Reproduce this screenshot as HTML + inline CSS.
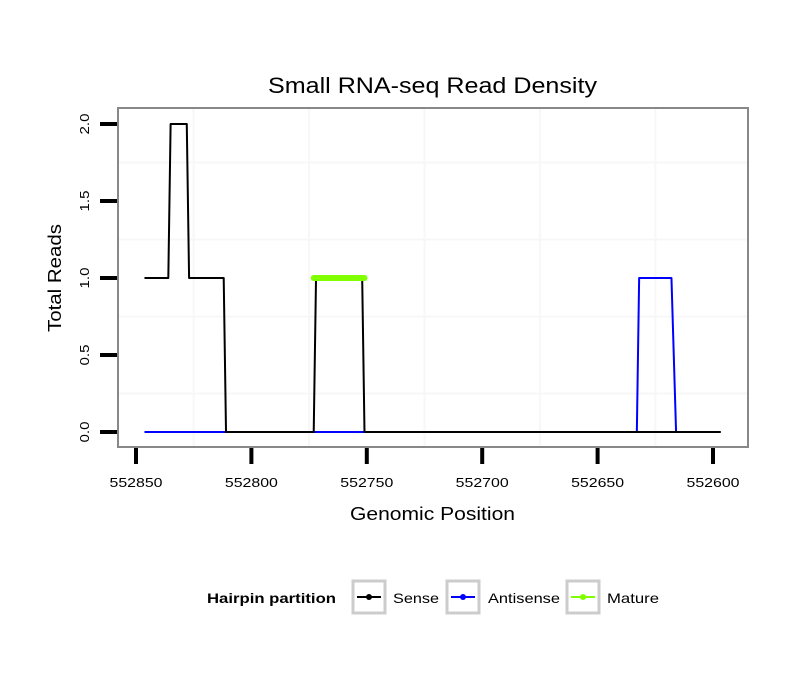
<!DOCTYPE html>
<html><head><meta charset="utf-8"><style>
body{margin:0;background:#fff;font-family:"Liberation Sans",sans-serif}
</style></head><body>
<svg id="chart" width="810" height="690" xmlns="http://www.w3.org/2000/svg" font-family="Liberation Sans, sans-serif">
<rect width="810" height="690" fill="#fff"/>
<text x="268" y="93" font-size="22" textLength="329" lengthAdjust="spacingAndGlyphs">Small RNA-seq Read Density</text>
<g id="grid"></g>
<g id="series"></g>
<rect x="118" y="108" width="630" height="339" fill="none" stroke="#888" stroke-width="2"/>
<g id="axes"></g>
<text x="350" y="520" font-size="18" textLength="165" lengthAdjust="spacingAndGlyphs">Genomic Position</text>
<text transform="translate(61,278) rotate(-90)" font-size="18" text-anchor="middle" textLength="108" lengthAdjust="spacingAndGlyphs">Total Reads</text>
<g>
<text x="207" y="603" font-size="14" font-weight="bold" textLength="129" lengthAdjust="spacingAndGlyphs">Hairpin partition</text>
<g><rect x="353" y="581" width="32" height="32" fill="#fff" stroke="#ccc" stroke-width="3"/><line x1="357" y1="597" x2="381" y2="597" stroke="#000" stroke-width="2"/><circle cx="369" cy="597" r="3" fill="#000"/><text x="393" y="603" font-size="14" textLength="46" lengthAdjust="spacingAndGlyphs">Sense</text></g>
<g><rect x="447" y="581" width="32" height="32" fill="#fff" stroke="#ccc" stroke-width="3"/><line x1="451" y1="597" x2="475" y2="597" stroke="#00f" stroke-width="2"/><circle cx="463" cy="597" r="3" fill="#00f"/><text x="488" y="603" font-size="14" textLength="72" lengthAdjust="spacingAndGlyphs">Antisense</text></g>
<g><rect x="567" y="581" width="32" height="32" fill="#fff" stroke="#ccc" stroke-width="3"/><line x1="571" y1="597" x2="595" y2="597" stroke="#7fff00" stroke-width="2"/><circle cx="583" cy="597" r="3" fill="#7fff00"/><text x="607" y="603" font-size="14" textLength="52" lengthAdjust="spacingAndGlyphs">Mature</text></g>
</g>
</svg>
<script>
const xTicks=[552850,552800,552750,552700,552650,552600];
const yTicks=[0,0.5,1,1.5,2];
const yTickLabels=["0.0","0.5","1.0","1.5","2.0"];
const senseX=[552846,552836,552835,552828,552827,552812,552811,552773,552772,552752,552751,552597];
const senseY=[1,1,2,2,1,1,0,0,1,1,0,0];
const antiX=[552846,552633,552632,552618,552616,552597];
const antiY=[0,0,1,1,0,0];
const matureX=[552773,552751];
const matureY=[1,1];
const NS="http://www.w3.org/2000/svg";
function sx(g){return 136+(552850-g)*2.308;}
function sy(v){return 432-v*154;}
function mk(tag,attrs,parent){const e=document.createElementNS(NS,tag);for(const k in attrs)e.setAttribute(k,attrs[k]);parent.appendChild(e);return e;}
const grid=document.getElementById('grid'),ser=document.getElementById('series'),ax=document.getElementById('axes');
for(let i=0;i<xTicks.length-1;i++){const x=sx((xTicks[i]+xTicks[i+1])/2);const l=mk('line',{x1:x,x2:x,y1:109,y2:446,stroke:'#f7f7f7','stroke-width':2},grid);

}
for(let i=0;i<yTicks.length-1;i++){const y=sy((yTicks[i]+yTicks[i+1])/2);const l=mk('line',{x1:119,x2:747,y1:y,y2:y,stroke:'#f7f7f7','stroke-width':2},grid);

}
function line(xs,ys,color,w,name){const p=mk('polyline',{points:xs.map((g,i)=>sx(g)+','+sy(ys[i])).join(' '),fill:'none',stroke:color,'stroke-width':w,'stroke-linecap':'round','stroke-linejoin':'round'},ser);

}
line(antiX,antiY,'#0000ff',2,'antisense-line');
line(senseX,senseY,'#000',2,'sense-line');
line(matureX,matureY,'#7fff00',6,'mature-line');
xTicks.forEach(g=>{const x=sx(g);const t=mk('line',{x1:x,x2:x,y1:448,y2:464,stroke:'#000','stroke-width':4},ax);


const l=mk('text',{x:x,y:487,'font-size':13,'text-anchor':'middle',textLength:53,lengthAdjust:'spacingAndGlyphs'},ax);l.textContent=g;

});
yTicks.forEach((v,i)=>{const y=sy(v);const t=mk('line',{x1:100,x2:117,y1:y,y2:y,stroke:'#000','stroke-width':4},ax);


const l=mk('text',{transform:'translate(89,'+y+') rotate(-90)','font-size':13,'text-anchor':'middle',textLength:21,lengthAdjust:'spacingAndGlyphs'},ax);l.textContent=yTickLabels[i];

});
</script>
</body></html>
